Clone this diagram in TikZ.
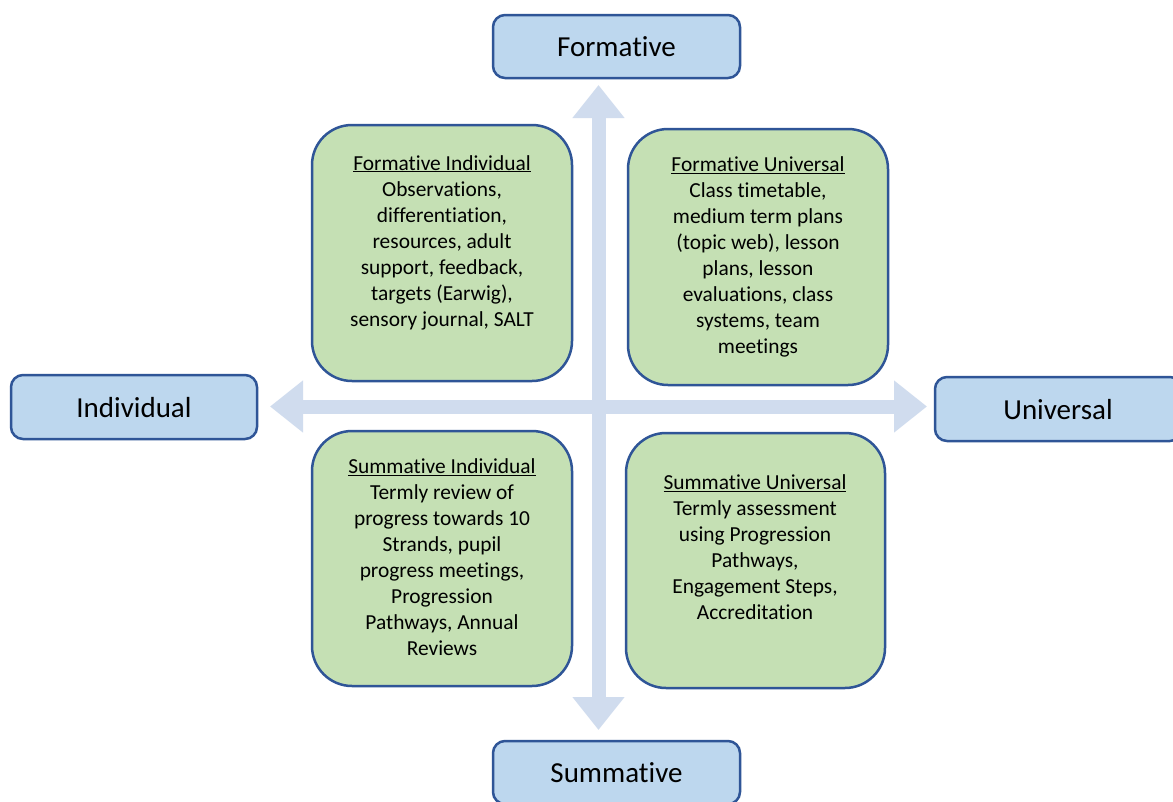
\documentclass[tikz,border=0pt]{standalone}
\usepackage{fontspec}
\setmainfont{Carlito}[Ligatures={NoCommon}]
\usetikzlibrary{arrows.meta}
\definecolor{axisblue}{HTML}{D0DCEE}
\definecolor{boxblue}{HTML}{BDD7EE}
\definecolor{boxgreen}{HTML}{C5E0B4}
\definecolor{edgeblue}{HTML}{2F5597}
\tikzset{
  labelbox/.style={draw=edgeblue, line width=2.5pt, fill=boxblue, rounded corners=12pt},
  quadbox/.style={draw=edgeblue, line width=2.5pt, fill=boxgreen, rounded corners=40pt},
  labeltext/.style={font=\fontsize{29}{35}\selectfont, inner sep=0pt},
  quadtext/.style={font=\fontsize{21.4}{26}\selectfont, align=center, inner sep=0pt},
  bigarrow/.style={draw=axisblue, line width=14pt,
    {Triangle[length=33pt,width=50pt]}-{Triangle[length=33pt,width=50pt]}}
}
\begin{document}
\begin{tikzpicture}[x=1pt,y=-1pt]
\clip (0,0) rectangle (1173,801);
\fill[white] (0,0) rectangle (1173,801);
% axis end points
\coordinate (vtop) at (598.5,85);
\coordinate (vbot) at (598.5,730);
\coordinate (hleft) at (270,406.5);
\coordinate (hright) at (927,406.5);
% label boxes
\draw[labelbox] (493,15) rectangle (740,78);
\node[labeltext] (F) at (616.5,47) {Formative};
\draw[labelbox] (11,375) rectangle (257,439);
\node[labeltext] (I) at (134,407.5) {Individual};
\draw[labelbox] (935,377) rectangle (1182,441);
\node[labeltext] (U) at (1058,409.5) {Universal};
\draw[labelbox] (493,741) rectangle (740,804);
\node[labeltext] (S) at (616.5,773) {Summative};
% axes
\draw[bigarrow] (vtop) -- (vbot);
\draw[bigarrow] (hleft) -- (hright);
% quadrant boxes
\draw[quadbox] (312,125) rectangle (572,381);
\node[quadtext] (FI) at (442,242.5) {\underline{Formative Individual}\\Observations,\\differentiation,\\resources, adult\\support, feedback,\\targets (Earwig),\\sensory journal, SALT};
\draw[quadbox] (628,129) rectangle (888,385);
\node[quadtext] (FU) at (758,257) {\underline{Formative Universal}\\Class timetable,\\medium term plans\\(topic web), lesson\\plans, lesson\\evaluations, class\\systems, team\\meetings};
\draw[quadbox] (312,431) rectangle (572,686);
\node[quadtext] (SI) at (442,557) {\underline{Summative Individual}\\Termly review of\\progress towards 10\\Strands, pupil\\progress meetings,\\Progression\\Pathways, Annual\\Reviews};
\draw[quadbox] (626,433) rectangle (885,688);
\node[quadtext] (SU) at (755,547) {\underline{Summative Universal}\\Termly assessment\\using Progression\\Pathways,\\Engagement Steps,\\Accreditation};
\end{tikzpicture}
\end{document}
